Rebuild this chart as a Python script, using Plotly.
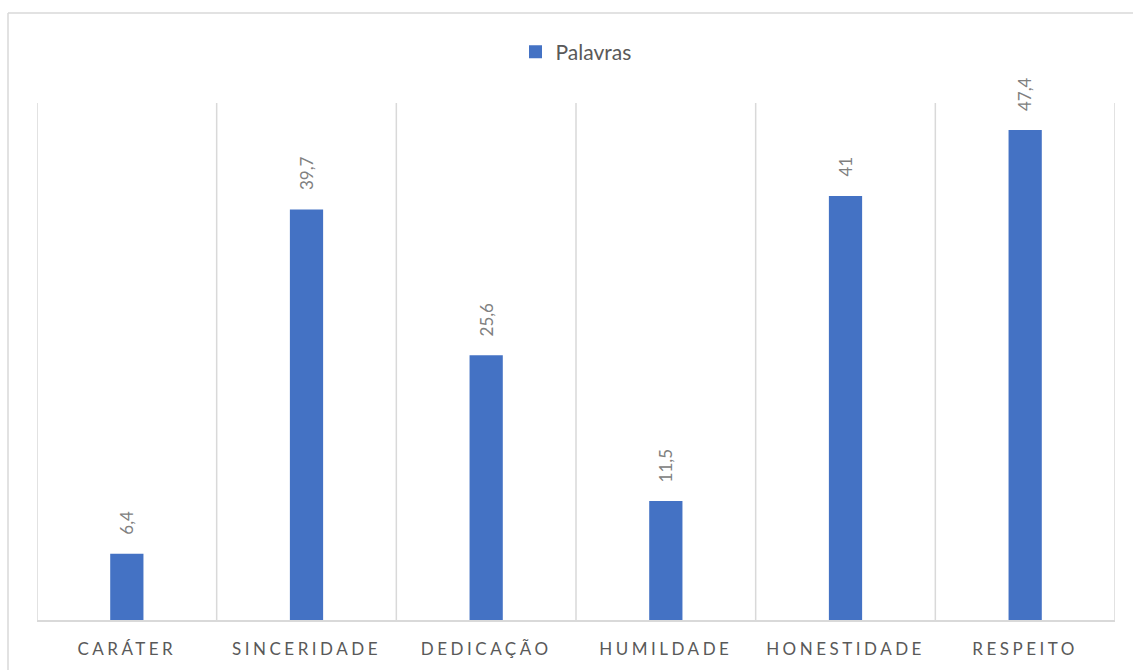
import plotly.graph_objects as go

# Categories and their values
categorias = ["CARÁTER", "SINCERIDADE", "DEDICAÇÃO", "HUMILDADE", "HONESTIDADE", "RESPEITO"]
valores = [6.4, 39.7, 25.6, 11.5, 41, 47.4]
serie = "Palavras"

W, H = 1133, 670
L, R, T, B = 37, 18, 103, 50
COR = "#4472C4"
FONTE = "Lato, Calibri, sans-serif"

def fmt(v):
    return f"{v:g}".replace(".", ",")

fig = go.Figure()
fig.add_trace(go.Bar(
    x=categorias,
    y=valores,
    name=serie,
    width=0.185,
    marker=dict(color=COR, line=dict(width=0)),
    showlegend=False,
))
# Legend entry with a larger square swatch
fig.add_trace(go.Scatter(
    x=[None], y=[None], mode="markers", name=serie,
    marker=dict(symbol="square", size=13, color=COR),
    showlegend=True,
))

# Rotated value labels above each bar
for c, v in zip(categorias, valores):
    fig.add_annotation(
        x=c, y=v, text=fmt(v), textangle=-90,
        showarrow=False, xanchor="center", yanchor="bottom", yshift=17,
        font=dict(family=FONTE, size=17, color="#808080"),
    )

# Vertical gridlines at category boundaries
shapes = []
for i in range(len(categorias) + 1):
    shapes.append(dict(type="line", xref="x", yref="paper",
                       x0=i - 0.5, x1=i - 0.5, y0=0, y1=1,
                       line=dict(color="#d9d9d9", width=1.5), layer="below"))

# Outer chart frame (top and left edges visible)
px_w = W - L - R
px_h = H - T - B
fx0 = (8 - L) / px_w
fy_top = (H - B - 13) / px_h
shapes.append(dict(type="line", xref="paper", yref="paper",
                   x0=fx0, x1=2, y0=fy_top, y1=fy_top,
                   line=dict(color="#d9d9d9", width=1.5)))
shapes.append(dict(type="line", xref="paper", yref="paper",
                   x0=fx0, x1=fx0, y0=fy_top, y1=-2,
                   line=dict(color="#d9d9d9", width=1.5)))

fig.update_layout(
    width=W, height=H,
    margin=dict(l=L, r=R, t=T, b=B),
    paper_bgcolor="white",
    plot_bgcolor="white",
    shapes=shapes,
    legend=dict(
        orientation="h", x=0.5, xanchor="center",
        yref="container", y=1 - 52 / H, yanchor="middle",
        font=dict(family=FONTE, size=21, color="#595959"),
        itemwidth=30,
    ),
    xaxis=dict(
        type="category",
        range=[-0.5, len(categorias) - 0.5],
        showgrid=False,
        showline=True, linecolor="#d9d9d9", linewidth=1.5,
        ticks="",
        ticklabelstandoff=13,
        tickmode="array",
        tickvals=categorias,
        ticktext=[f'<span style="letter-spacing:3.5px">{c}</span>' for c in categorias],
        tickfont=dict(family=FONTE, size=17, color="#595959"),
    ),
    yaxis=dict(
        range=[0, 50],
        showgrid=False, showticklabels=False, zeroline=False, showline=False,
    ),
)

fig.write_html("out.html")
